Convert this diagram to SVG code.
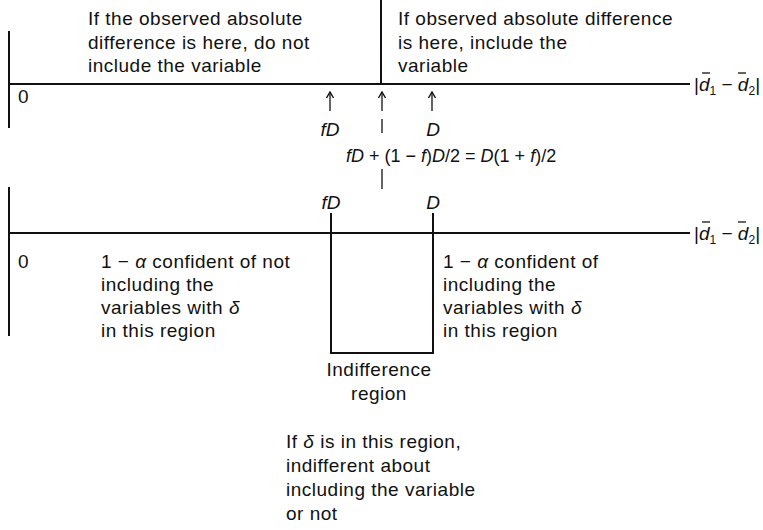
<svg xmlns="http://www.w3.org/2000/svg" width="763" height="530" viewBox="0 0 763 530">
<style>
text{font-family:"Liberation Sans",Arial,sans-serif;font-size:19px;letter-spacing:0.5px;fill:#111}
.i{font-style:italic}
.m{letter-spacing:0}
.f{font-size:18px}
.s{font-size:12px}
line,path{stroke:#111;stroke-width:2;fill:none}
.thin{stroke-width:1.3}
</style>
<defs>
<marker id="ah" viewBox="0 0 8 8" refX="7" refY="4" markerWidth="8" markerHeight="8" orient="auto" markerUnits="userSpaceOnUse">
<path d="M1,0.5 L7,4 L1,7.5" style="stroke:#111;stroke-width:1.4;fill:none"/>
</marker>
</defs>
<g id="connectors">
<line x1="9" y1="31" x2="9" y2="128"/>
<line x1="9" y1="84" x2="690" y2="84"/>
<line x1="381" y1="0" x2="381" y2="84"/>
<line class="thin" x1="330" y1="111" x2="330" y2="92" marker-end="url(#ah)"/>
<line class="thin" x1="382" y1="111" x2="382" y2="92" marker-end="url(#ah)"/>
<line class="thin" x1="432" y1="111" x2="432" y2="92" marker-end="url(#ah)"/>
<line class="thin" x1="382" y1="119" x2="382" y2="133"/>
<line class="thin" x1="382" y1="169" x2="382" y2="189"/>
<line x1="9" y1="187" x2="9" y2="336"/>
<line x1="9" y1="233" x2="690" y2="233"/>
<path d="M331,213 V353 H433 V213"/>
</g>
<g id="top-left-text">
<text x="88" y="25">If the observed absolute</text>
<text x="88" y="49">difference is here, do not</text>
<text x="88" y="72">include the variable</text>
</g>
<g id="top-right-text">
<text x="398" y="25">If observed absolute difference</text>
<text x="398" y="49">is here, include the</text>
<text x="398" y="72">variable</text>
</g>
<g id="top-axis-labels">
<text x="18" y="103">0</text>
<text class="i m" x="330" y="136" text-anchor="middle">fD</text>
<text class="i m" x="433" y="136" text-anchor="middle">D</text>
<text class="m f" x="346" y="162"><tspan class="i">fD</tspan> + (1 − <tspan class="i">f</tspan>)<tspan class="i">D</tspan>/2 = <tspan class="i">D</tspan>(1 + <tspan class="i">f</tspan>)/2</text>
<text class="m" x="694" y="91"><tspan>|</tspan><tspan class="i">d</tspan><tspan class="s" dy="4">1</tspan><tspan dy="-4"> − </tspan><tspan class="i">d</tspan><tspan class="s" dy="4">2</tspan><tspan dy="-4">|</tspan></text>
<line class="thin" x1="702" y1="73" x2="710" y2="73"/>
<line class="thin" x1="738" y1="73" x2="746" y2="73"/>
</g>
<g id="bottom-axis-labels">
<text class="i m" x="331" y="209" text-anchor="middle">fD</text>
<text class="i m" x="433" y="209" text-anchor="middle">D</text>
<text x="18" y="268">0</text>
<text class="m" x="694" y="240"><tspan>|</tspan><tspan class="i">d</tspan><tspan class="s" dy="4">1</tspan><tspan dy="-4"> − </tspan><tspan class="i">d</tspan><tspan class="s" dy="4">2</tspan><tspan dy="-4">|</tspan></text>
<line class="thin" x1="702" y1="222" x2="710" y2="222"/>
<line class="thin" x1="738" y1="222" x2="746" y2="222"/>
</g>
<g id="bottom-left-text">
<text x="101" y="268">1 − <tspan class="i">α</tspan> confident of not</text>
<text x="101" y="291">including the</text>
<text x="101" y="314">variables with <tspan class="i">δ</tspan></text>
<text x="101" y="337">in this region</text>
</g>
<g id="bottom-right-text">
<text x="443" y="268">1 − <tspan class="i">α</tspan> confident of</text>
<text x="443" y="291">including the</text>
<text x="443" y="314">variables with <tspan class="i">δ</tspan></text>
<text x="443" y="337">in this region</text>
</g>
<g id="indifference-label">
<text x="379" y="376" text-anchor="middle">Indifference</text>
<text x="379" y="400" text-anchor="middle">region</text>
</g>
<g id="indifference-note">
<text x="286" y="448">If <tspan class="i">δ</tspan> is in this region,</text>
<text x="286" y="472">indifferent about</text>
<text x="286" y="496">including the variable</text>
<text x="286" y="520">or not</text>
</g>
</svg>
